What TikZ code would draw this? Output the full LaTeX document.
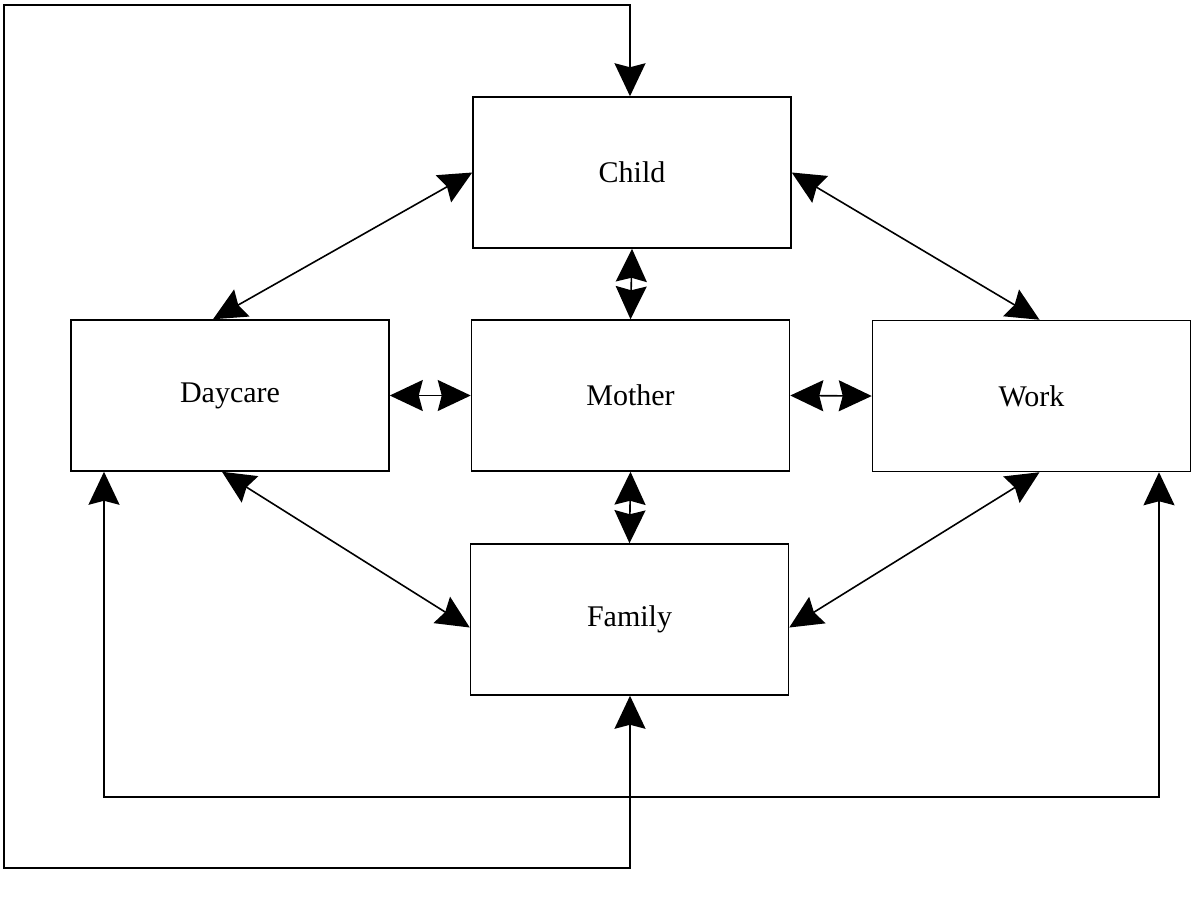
\documentclass[tikz,border=0pt]{standalone}
\usepackage{fontspec}
\setmainfont{Liberation Serif}
\usetikzlibrary{arrows.meta,calc}
\begin{document}
\begin{tikzpicture}[x=1pt,y=-1pt,
  box/.style={draw,line width=1.5pt,minimum width=318pt,minimum height=151pt,inner sep=0pt,
    font=\fontsize{30}{34}\selectfont},
  tip/.style={Stealth[length=33pt,width=31pt,inset=4pt]},
  twoway/.style={line width=1.6pt,{Stealth[length=33pt,width=31pt,inset=4pt]}-{Stealth[length=33pt,width=31pt,inset=4pt]}}]
\useasboundingbox (0,0) rectangle (1193,898);

% the five boxes
\node[box] (child)   at (632,172.5) {Child};
\node[box] (daycare) at (230,395.5) {Daycare};
\node[box] (mother)  at (630.5,395.5) {Mother};
\node[box] (work)    at (1031.5,396) {Work};
\node[box] (family)  at (629.5,619.5) {Family};

% two-way links between neighbouring boxes
\draw[twoway] (child.west) -- ($(daycare.north)+(-17,0)$);
\draw[twoway] (child.east) -- ($(work.north)+(8,0)$);
\draw[twoway] ($(daycare.south)+(-8,0)$) -- ($(family.west)+(0,8)$);
\draw[twoway] ($(work.south)+(8,0)$) -- ($(family.east)+(0,8)$);
\draw[twoway] (child.south) -- (mother.north);
\draw[twoway] (mother.south) -- (family.north);
\draw[twoway] (daycare.east) -- (mother.west);
\draw[twoway] (mother.east) -- (work.west);

% lower loop joining Daycare and Work
\coordinate (dl) at (104,797);
\coordinate (wl) at (1159,797);
\draw[twoway] (daycare.south -| dl) -- (dl) -- (wl) -- (work.south -| wl);

% outer loop joining Family and Child
\coordinate (fb) at (630,868);
\coordinate (lb) at (4,868);
\coordinate (lt) at (4,5);
\coordinate (ct) at (630,5);
\draw[twoway] (family.south -| fb) -- (fb) -- (lb) -- (lt) -- (ct) -- (child.north -| ct);
\end{tikzpicture}
\end{document}
